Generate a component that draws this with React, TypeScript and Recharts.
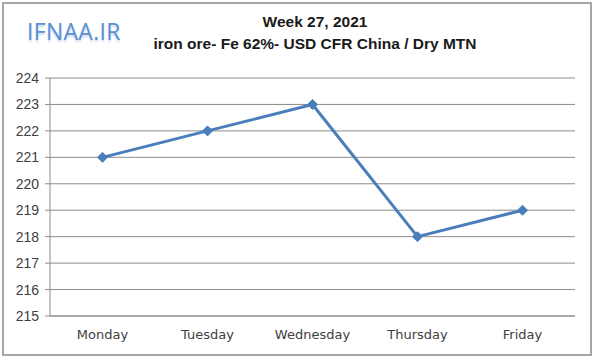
import { LineChart, Line, XAxis, YAxis, CartesianGrid } from 'recharts';

const days = ['Monday', 'Tuesday', 'Wednesday', 'Thursday', 'Friday'];
const prices = [221, 222, 223, 218, 219];
const yTicks = [215, 216, 217, 218, 219, 220, 221, 222, 223, 224];
const edgeTicks = [0, 1, 2, 3, 4, 5];

const data = days.map((day, i) => ({ day, price: prices[i], pos: i + 0.5 }));

const BLUE = '#4a7ebb';

function Diamond(props: any) {
  const { cx, cy } = props;
  if (cx == null || cy == null) return null;
  const r = 5;
  return (
    <polygon
      points={`${cx},${cy - r} ${cx + r},${cy} ${cx},${cy + r} ${cx - r},${cy}`}
      fill={BLUE}
      stroke={BLUE}
    />
  );
}

export default function App() {
  return (
    <div style={{ position: 'absolute', left: 0, top: 0, width: 600, height: 362, background: '#fff' }}>
      <div
        style={{
          position: 'absolute',
          left: 2,
          top: 2,
          width: 586,
          height: 350,
          border: '2px solid #a6a6a6',
        }}
      />
      <div
        style={{
          position: 'absolute',
          left: 27,
          top: 16,
          fontFamily: '"Open Sans", sans-serif',
          fontSize: 23,
          lineHeight: '30px',
          color: '#5b8fd0',
          letterSpacing: 0.3,
          textShadow: '0 2px 2px rgba(91,143,208,0.35)',
        }}
      >
        IFNAA.IR
      </div>
      <div
        style={{
          position: 'absolute',
          left: 0,
          width: 630,
          top: 11,
          textAlign: 'center',
          fontFamily: '"Liberation Sans", Arial, sans-serif',
          fontWeight: 'bold',
          fontSize: 15.5,
          lineHeight: '22px',
          color: '#1a1a1a',
        }}
      >
        <div>Week 27, 2021</div>
        <div>iron ore- Fe 62%- USD CFR China / Dry MTN</div>
      </div>
      <div style={{ position: 'absolute', left: 0, top: 0 }}>
        <LineChart
          width={600}
          height={362}
          data={data}
          margin={{ top: 78, right: 25, bottom: 0, left: 0 }}
        >
          <CartesianGrid vertical={false} stroke="#8c8c8c" strokeWidth={1} />
          <XAxis
            xAxisId="cat"
            dataKey="day"
            scale="band"
            height={46}
            tickLine={false}
            axisLine={{ stroke: '#8c8c8c' }}
            tickSize={0}
            tickMargin={14}
            tick={{ fontSize: 13, fill: '#404040', fontFamily: '"DejaVu Sans", sans-serif' }}
          />
          <XAxis
            xAxisId="edges"
            type="number"
            dataKey="pos"
            domain={[0, 5]}
            ticks={edgeTicks}
            height={0}
            axisLine={false}
            tickSize={4}
            tickLine={{ stroke: '#8c8c8c' }}
            tick={false}
            orientation="bottom"
          />
          <YAxis
            domain={[215, 224]}
            ticks={yTicks}
            width={50}
            interval={0}
            axisLine={{ stroke: '#8c8c8c' }}
            tickLine={{ stroke: '#8c8c8c' }}
            tickSize={5}
            tickMargin={6}
            tick={{ fontSize: 14, fill: '#404040', fontFamily: '"Liberation Sans", Arial, sans-serif' }}
          />
          <Line
            xAxisId="cat"
            dataKey="price"
            stroke={BLUE}
            strokeWidth={3}
            dot={<Diamond />}
            activeDot={false}
            isAnimationActive={false}
          />
        </LineChart>
      </div>
    </div>
  );
}
